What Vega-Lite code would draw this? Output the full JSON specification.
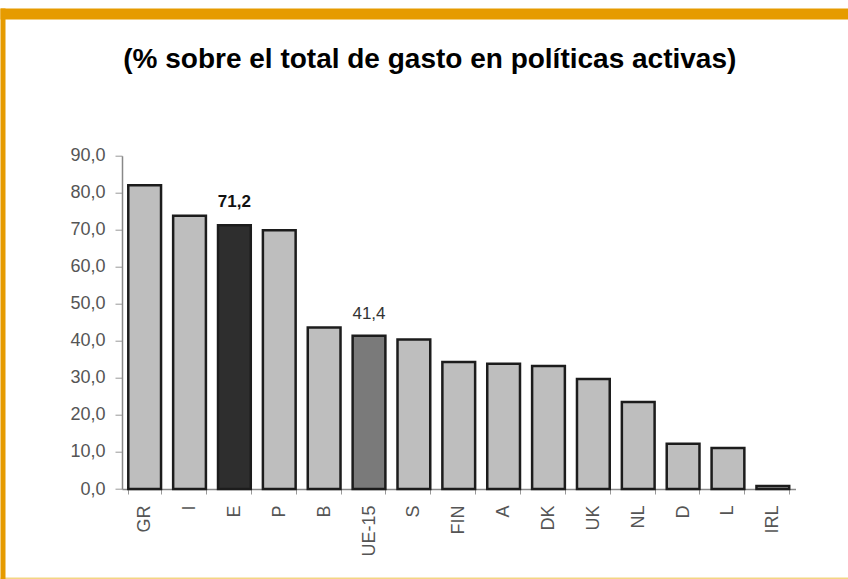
{
  "$schema": "https://vega.github.io/schema/vega-lite/v6.json",
  "autosize": {"type": "none"},
  "padding": {"left": 122, "top": 155.7, "right": 52.5, "bottom": 90},
  "width": 673.5,
  "height": 333.3,
  "background": "#ffffff",
  "title": {
    "text": "(% sobre el total de gasto en políticas activas)",
    "font": "Liberation Sans",
    "fontSize": 28,
    "fontWeight": "bold",
    "color": "#000000",
    "anchor": "middle",
    "dx": -29,
    "offset": -82,
    "baseline": "alphabetic"
  },
  "data": {
    "values": [
      {"c": "GR", "v": 82.0, "t": "país"},
      {"c": "I", "v": 73.8, "t": "país"},
      {"c": "E", "v": 71.2, "t": "España"},
      {"c": "P", "v": 69.9, "t": "país"},
      {"c": "B", "v": 43.6, "t": "país"},
      {"c": "UE-15", "v": 41.4, "t": "UE-15"},
      {"c": "S", "v": 40.4, "t": "país"},
      {"c": "FIN", "v": 34.3, "t": "país"},
      {"c": "A", "v": 33.8, "t": "país"},
      {"c": "DK", "v": 33.2, "t": "país"},
      {"c": "UK", "v": 29.7, "t": "país"},
      {"c": "NL", "v": 23.5, "t": "país"},
      {"c": "D", "v": 12.2, "t": "país"},
      {"c": "L", "v": 11.1, "t": "país"},
      {"c": "IRL", "v": 0.8, "t": "país"}
    ]
  },
  "resolve": {"scale": {"x": "independent", "y": "independent"}},
  "layer": [
    {
      "encoding": {
        "x": {
          "field": "c", "type": "nominal",
          "scale": {"domain": ["GR","I","E","P","B","UE-15","S","FIN","A","DK","UK","NL","D","L","IRL"], "paddingInner": 0.27, "paddingOuter": 0.14},
          "axis": {"title": null, "labelAngle": -90, "tickBand": "extent", "labelFont": "Liberation Sans", "labelFontSize": 18, "labelColor": "#555555", "labelPadding": 11, "tickColor": "#999999", "tickSize": 5, "domainColor": "#888888", "domainWidth": 1.5, "grid": false}
        },
        "y": {
          "field": "v", "type": "quantitative",
          "scale": {"domain": [0, 90], "nice": false},
          "axis": {"title": null, "values": [0,10,20,30,40,50,60,70,80,90], "tickCount": 10, "format": ".1f", "labelOverlap": false, "labelFont": "Liberation Sans", "labelFontSize": 18, "labelColor": "#555555", "tickSize": 7, "tickColor": "#999999", "domainColor": "#888888", "domainWidth": 1.5, "grid": false, "labelPadding": 10}
        }
      },
      "layer": [
        {
          "mark": {"type": "bar", "stroke": "#1c1c1c", "strokeWidth": 2.5},
          "encoding": {
            "color": {
              "field": "t", "type": "nominal",
              "scale": {"domain": ["país", "España", "UE-15"], "range": ["#BEBEBE", "#2E2E2E", "#7A7A7A"]},
              "legend": null
            }
          }
        },
        {
          "transform": [{"filter": "datum.c === 'E'"}],
          "mark": {"type": "text", "font": "Liberation Sans", "fontSize": 17, "fontWeight": "bold", "color": "#111111", "baseline": "alphabetic", "dy": -18},
          "encoding": {
            "text": {"field": "v", "type": "quantitative", "format": ".1f"}
          }
        },
        {
          "transform": [{"filter": "datum.c === 'UE-15'"}],
          "mark": {"type": "text", "font": "Liberation Sans", "fontSize": 17, "color": "#333333", "baseline": "alphabetic", "dy": -17},
          "encoding": {
            "text": {"field": "v", "type": "quantitative", "format": ".1f"}
          }
        }
      ]
    },
    {
      "mark": {"type": "point", "opacity": 0},
      "encoding": {
        "x": {
          "field": "v", "type": "quantitative",
          "scale": {"range": [-122, 726]},
          "axis": {"orient": "top", "offset": 142.2, "domainColor": "#E69B00", "domainWidth": 11, "labels": false, "ticks": false, "grid": false, "title": null}
        },
        "y": {
          "field": "v", "type": "quantitative",
          "scale": {"range": [423.3, -147.7]},
          "axis": {"orient": "left", "offset": 119.5, "domainColor": "#E69B00", "domainWidth": 5, "labels": false, "ticks": false, "grid": false, "title": null}
        }
      }
    },
    {
      "mark": {"type": "point", "opacity": 0},
      "encoding": {
        "x": {
          "field": "v", "type": "quantitative",
          "scale": {"range": [-122, 726]},
          "axis": {"orient": "bottom", "offset": 89, "domainColor": "#F3D684", "domainWidth": 2, "labels": false, "ticks": false, "grid": false, "title": null}
        }
      }
    }
  ],
  "config": {
    "view": {"stroke": null},
    "locale": {"number": {"decimal": ",", "thousands": ".", "grouping": [3], "currency": ["", " €"]}}
  }
}
